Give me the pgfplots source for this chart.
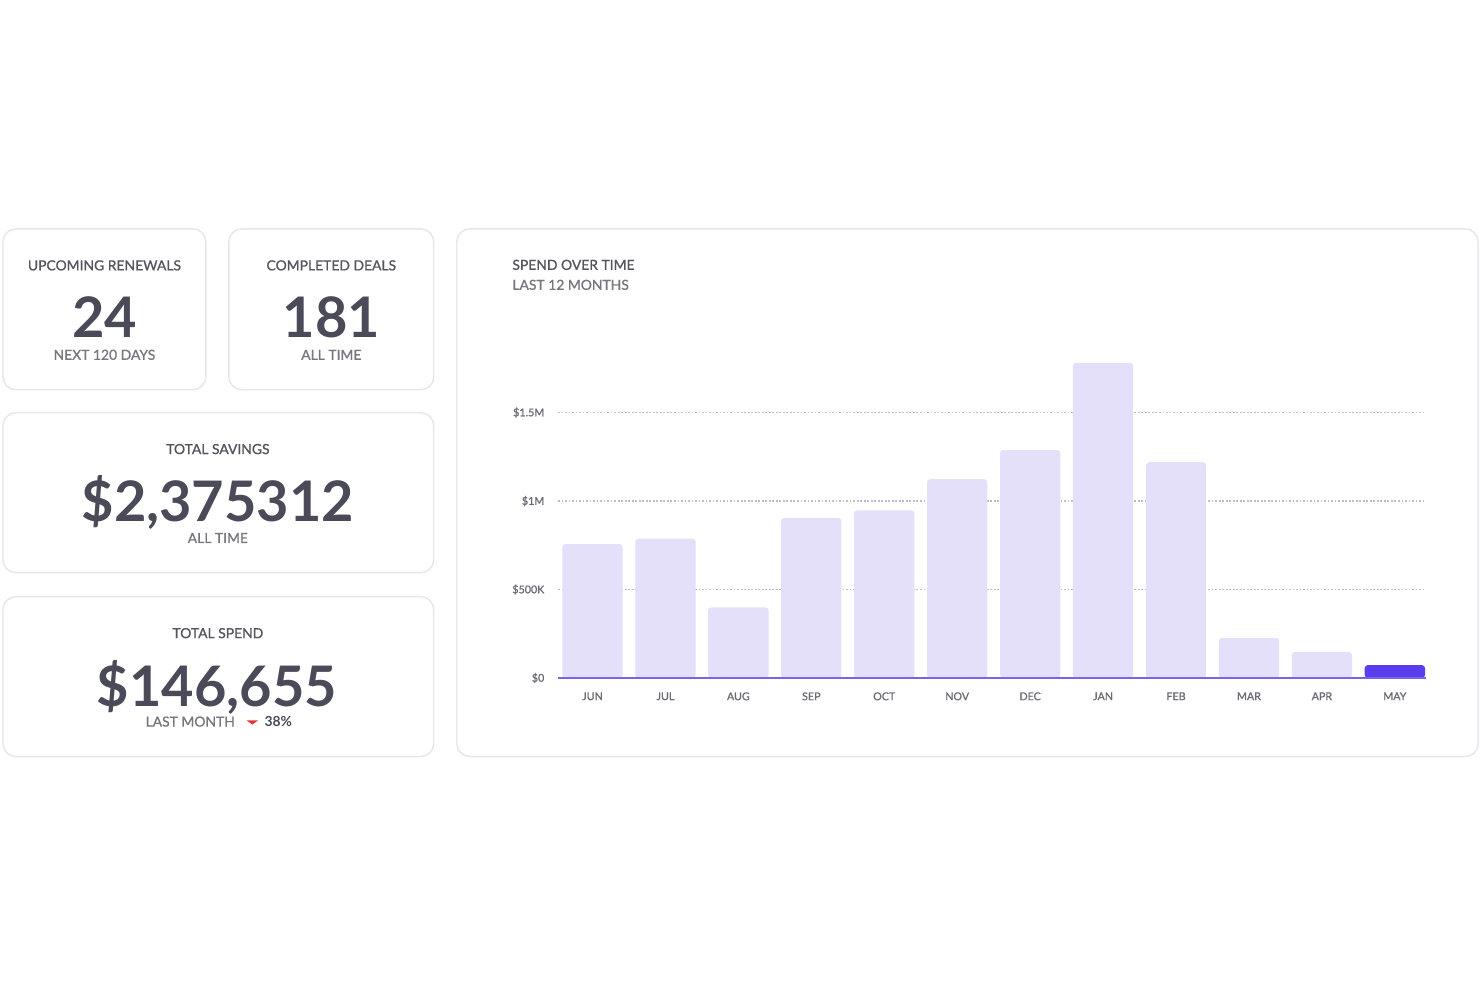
\documentclass[border=0pt]{standalone}
\usepackage{fontspec}
\setmainfont{Lato}
\newfontfamily\medlato{Lato}[FakeBold=1.0]
\usepackage{pgfplots}
\usepackage{pgfplotstable}
\pgfplotsset{compat=1.18}

\definecolor{cardborder}{HTML}{E6E6EB}
\definecolor{numdark}{HTML}{4A4A58}
\definecolor{labelgray}{HTML}{55555F}
\definecolor{subgray}{HTML}{77777F}
\definecolor{tickgray}{HTML}{6A6A74}
\definecolor{barlight}{HTML}{E4E0FA}
\definecolor{barcurrent}{HTML}{5A3DEE}
\definecolor{basepurple}{HTML}{7B62E6}
\definecolor{griddot}{HTML}{BDBDC4}
\definecolor{downred}{HTML}{E0343A}

\newcommand\labelfont{\medlato\fontsize{3.95pt}{5pt}\selectfont}
\newcommand\bigfont{\fontsize{15.9pt}{18pt}\selectfont\bfseries}
\newcommand\tickfont{\medlato\fontsize{3.05pt}{3.6pt}\selectfont}

% monthly spend, in millions of dollars
\pgfplotstableread{
idx spend
0  0.757
1  0.787
2  0.399
3  0.904
4  0.947
5  1.123
6  1.288
7  1.781
8  1.219
9  0.226
10 0.147
}\pastmonths
\pgfplotstableread{
idx spend
11 0.073
}\currentmonth

\begin{document}
\begin{tikzpicture}
\path[use as bounding box, fill=white] (0,0) rectangle (14.8cm,-9.87cm);

\begin{scope}[x=0.01cm, y=-0.01cm]
  % cards
  \begin{scope}[draw=cardborder, line width=0.4pt, rounded corners=3.7pt]
    \draw (3,229) rectangle (206,390);
    \draw (229,229) rectangle (434,390);
    \draw (3,413) rectangle (434,573);
    \draw (3,597) rectangle (434,757);
    \draw (457,229) rectangle (1479,757);
  \end{scope}

  \tikzset{lbl/.style={anchor=base, inner sep=0pt, font=\labelfont, text=labelgray},
           sub/.style={anchor=base, inner sep=0pt, font=\labelfont, text=subgray},
           big/.style={anchor=base, inner sep=0pt, font=\bigfont, text=numdark}}

  % upcoming renewals
  \node[lbl] at (104.5,270.5) {UPCOMING RENEWALS};
  \node[big] at (104.5,337.7) {24};
  \node[sub] at (104.5,360) {NEXT 120 DAYS};

  % completed deals
  \node[lbl] at (331.5,270.5) {COMPLETED DEALS};
  \node[big] at (331.5,337.7) {181};
  \node[sub] at (331.5,360) {ALL TIME};

  % total savings
  \node[lbl] at (218,454.3) {TOTAL SAVINGS};
  \node[big] at (218,521.7) {\$2,375312};
  \node[sub] at (218,543.3) {ALL TIME};

  % total spend
  \node[lbl] at (218,638.5) {TOTAL SPEND};
  \node[big] at (217,706.7) {\$146,655};
  \node[sub, anchor=base west] at (145,727) {LAST MONTH};
  \fill[downred] (246.7,720.7) -- (258.3,720.7) -- (252.5,725) -- cycle;
  \node[anchor=base west, inner sep=0pt, font=\fontsize{3.95pt}{5pt}\selectfont\bfseries, text=numdark] at (264,727) {38\%};

  % chart titles
  \node[lbl, anchor=base west] at (512,270) {SPEND OVER TIME};
  \node[sub, anchor=base west] at (512,290) {LAST 12 MONTHS};
\end{scope}

\begin{axis}[
  at={(5.58cm,-6.78cm)}, anchor=south west,
  scale only axis, width=8.68cm, height=3.186cm,
  xmin=-0.473, xmax=11.427, ymin=0, ymax=1.8,
  clip=false,
  axis line style={draw=none},
  major tick length=0pt,
  xtick={0,...,11},
  xticklabels={JUN,JUL,AUG,SEP,OCT,NOV,DEC,JAN,FEB,MAR,APR,MAY},
  ytick={0,0.5,1,1.5},
  yticklabels={\$0,\$500K,\$1M,\$1.5M},
  ymajorgrids,
  grid style={griddot, line width=0.5pt, dash pattern=on 0.5pt off 0.5pt},
  tick label style={font=\tickfont, text=tickgray, inner sep=0pt},
  yticklabel style={anchor=east, xshift=-0.13cm},
  xticklabel style={anchor=north, yshift=-0.137cm},
]
  \addplot[ybar, bar width=0.603cm, bar shift=0pt, fill=barlight, draw=none,
           rounded corners=0.9pt] table[x=idx, y=spend] {\pastmonths};
  \addplot[ybar, bar width=0.603cm, bar shift=0pt, fill=barcurrent, draw=none,
           rounded corners=0.9pt] table[x=idx, y=spend] {\currentmonth};
  \draw[basepurple, line width=0.45pt] (rel axis cs:0,0) -- (rel axis cs:1,0);
\end{axis}
\end{tikzpicture}
\end{document}
